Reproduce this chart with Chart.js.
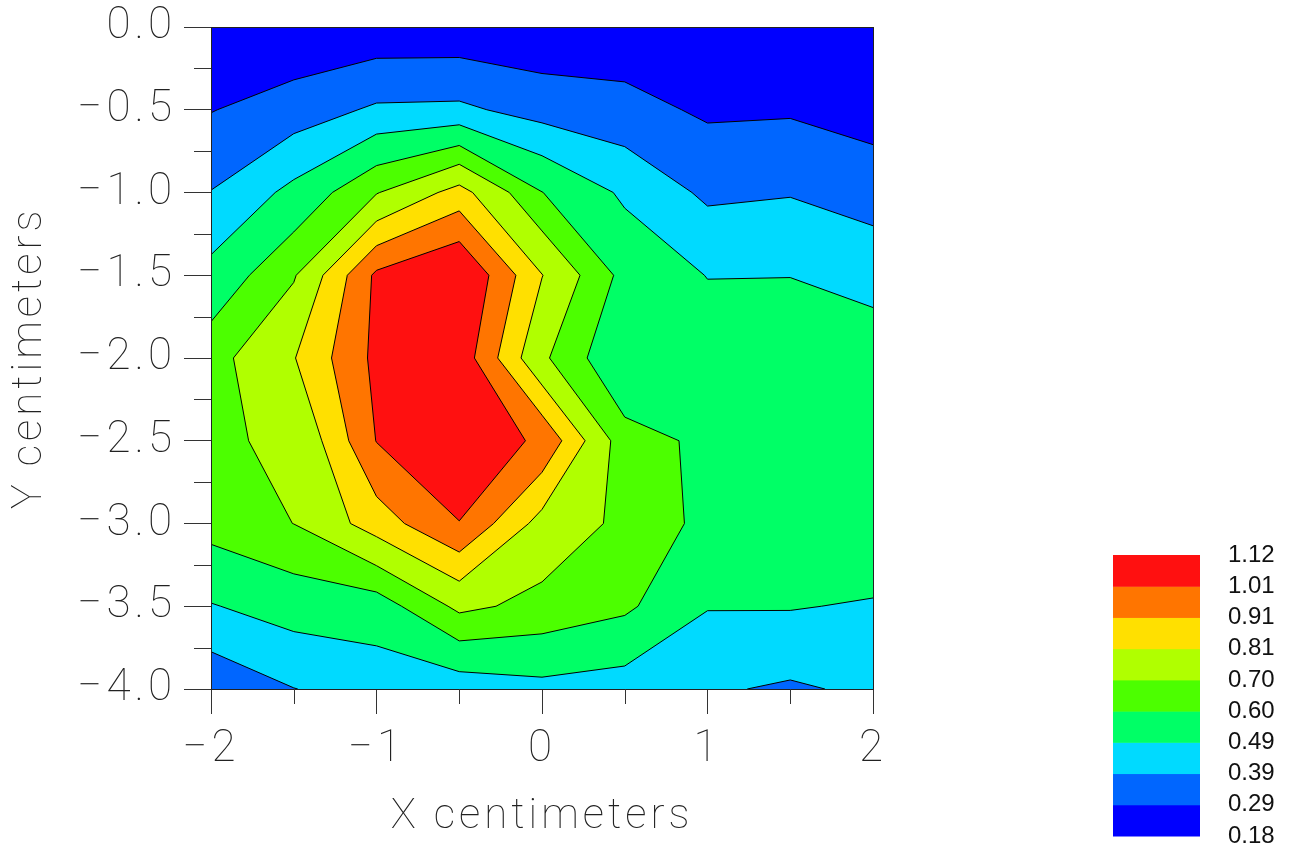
<!DOCTYPE html>
<html><head><meta charset="utf-8">
<script src="https://cdn.jsdelivr.net/npm/chart.js@4.4.1/dist/chart.umd.min.js"></script>
<style>html,body{margin:0;padding:0;background:#fff}canvas{display:block}</style>
</head><body>
<canvas id="c" width="1300" height="851"></canvas>
<script>
// grid coordinates (cm)
const xValues = [-2, -1.5, -1, -0.5, 0, 0.5, 1, 1.5, 2];
const yValues = [0, -0.5, -1, -1.5, -2, -2.5, -3, -3.5, -4];
// measured values, one row per y (top to bottom)
const zRow0 = [0.210, 0.205, 0.220, 0.220, 0.213, 0.223, 0.200, 0.190, 0.180];
const zRow1 = [0.286, 0.338, 0.405, 0.410, 0.350, 0.324, 0.2745, 0.279, 0.247];
const zRow2 = [0.393, 0.518, 0.694, 0.850, 0.602, 0.472, 0.371, 0.384, 0.349];
const zRow3 = [0.522, 0.690, 1.030, 1.120, 0.813, 0.567, 0.487, 0.488, 0.451];
const zRow4 = [0.661, 0.805, 1.035, 1.075, 0.720, 0.500, 0.550, 0.560, 0.551];
const zRow5 = [0.695, 0.706, 1.013, 1.070, 0.995, 0.640, 0.579, 0.570, 0.565];
const zRow6 = [0.639, 0.701, 0.860, 1.008, 0.772, 0.675, 0.571, 0.570, 0.580];
const zRow7 = [0.484, 0.535, 0.546, 0.724, 0.670, 0.620, 0.495, 0.496, 0.480];
const zRow8 = [0.313, 0.388, 0.429, 0.428, 0.460, 0.440, 0.402, 0.377, 0.408];
const zGrid = [zRow0, zRow1, zRow2, zRow3, zRow4, zRow5, zRow6, zRow7, zRow8];

const levels = [0.18, 0.29, 0.39, 0.49, 0.60, 0.70, 0.81, 0.91, 1.01, 1.12];
const levelLabels = ['0.18', '0.29', '0.39', '0.49', '0.60', '0.70', '0.81', '0.91', '1.01', '1.12'];
const bandColors = ['#0000FF', '#0066FF', '#00DAFF', '#00FF66', '#4CFF00', '#B0FF00', '#FFE000', '#FF7500', '#FF1010'];

const xTickValues = [-2, -1, 0, 1, 2];
const xTickLabels = ['\u22122', '\u22121', '0', '1', '2'];
const xMinorTicks = [-1.5, -0.5, 0.5, 1.5];
const yTickValues = [0, -0.5, -1, -1.5, -2, -2.5, -3, -3.5, -4];
const yTickLabels = ['0.0', '\u22120.5', '\u22121.0', '\u22121.5', '\u22122.0', '\u22122.5', '\u22123.0', '\u22123.5', '\u22124.0'];
const yMinorTicks = [-0.25, -0.75, -1.25, -1.75, -2.25, -2.75, -3.25, -3.75];

function cellContours(level) {
  const polys = [], segs = [];
  for (let r = 0; r < yValues.length - 1; r++) {
    for (let c = 0; c < xValues.length - 1; c++) {
      const corners = [
        [xValues[c], yValues[r], zGrid[r][c]],
        [xValues[c + 1], yValues[r], zGrid[r][c + 1]],
        [xValues[c + 1], yValues[r + 1], zGrid[r + 1][c + 1]],
        [xValues[c], yValues[r + 1], zGrid[r + 1][c]]
      ];
      const pts = [];
      for (let i = 0; i < 4; i++) {
        const a = corners[i], b = corners[(i + 1) % 4];
        const ia = a[2] >= level, ib = b[2] >= level;
        if (ia) pts.push({x: a[0], y: a[1], cross: false});
        if (ia !== ib) {
          const t = (level - a[2]) / (b[2] - a[2]);
          pts.push({x: a[0] + t * (b[0] - a[0]), y: a[1] + t * (b[1] - a[1]), cross: true});
        }
      }
      if (pts.length >= 3) polys.push(pts);
      for (let i = 0; i < pts.length; i++) {
        const p = pts[i], q = pts[(i + 1) % pts.length];
        if (p.cross && q.cross) segs.push([p, q]);
      }
    }
  }
  return {polys, segs};
}

const contourPlugin = {
  id: 'contour',
  beforeDraw(chart) { chart.ctx.letterSpacing = '4px'; },
  beforeDatasetsDraw(chart) {
    const {ctx, chartArea: a, scales: {x: sx, y: sy}} = chart;
    const X = v => sx.getPixelForValue(v), Y = v => sy.getPixelForValue(v);
    ctx.save();
    ctx.beginPath();
    ctx.rect(a.left, a.top, a.right - a.left, a.bottom - a.top);
    ctx.clip();
    for (let k = 0; k < bandColors.length; k++) {
      const {polys} = cellContours(levels[k]);
      ctx.beginPath();
      polys.forEach(p => {
        ctx.moveTo(X(p[0].x), Y(p[0].y));
        for (let i = 1; i < p.length; i++) ctx.lineTo(X(p[i].x), Y(p[i].y));
        ctx.closePath();
      });
      ctx.fillStyle = bandColors[k];
      ctx.fill();
    }
    ctx.beginPath();
    for (let k = 1; k < bandColors.length; k++) {
      const {segs} = cellContours(levels[k]);
      segs.forEach(([p, q]) => {
        ctx.moveTo(X(p.x), Y(p.y));
        ctx.lineTo(X(q.x), Y(q.y));
      });
    }
    ctx.strokeStyle = '#000';
    ctx.lineWidth = 1;
    ctx.stroke();
    ctx.restore();
  },
  afterDatasetsDraw(chart) {
    const {ctx, chartArea: a, scales: {x: sx, y: sy}} = chart;
    ctx.save();
    ctx.strokeStyle = '#222';
    ctx.lineWidth = 1;
    ctx.strokeRect(a.left + 0.5, a.top + 0.5, a.right - a.left, a.bottom - a.top);
    ctx.strokeStyle = '#333';
    ctx.beginPath();
    xMinorTicks.forEach(v => {
      const px = Math.round(sx.getPixelForValue(v)) + 0.5;
      ctx.moveTo(px, a.bottom); ctx.lineTo(px, a.bottom + 15);
    });
    yMinorTicks.forEach(v => {
      const py = Math.round(sy.getPixelForValue(v)) + 0.5;
      ctx.moveTo(a.left - 17, py); ctx.lineTo(a.left, py);
    });
    ctx.stroke();
    ctx.restore();
  },
  afterDraw(chart) {
    const ctx = chart.ctx;
    ctx.save();
    ctx.letterSpacing = '0px';
    const bx = 1113, bw = 87, top = 555, bottom = 836;
    const h = (bottom - top) / bandColors.length;
    for (let k = 0; k < bandColors.length; k++) {
      ctx.fillStyle = bandColors[k];
      ctx.fillRect(bx, bottom - (k + 1) * h, bw, h + 0.5);
    }
    ctx.fillStyle = '#111';
    ctx.font = '24px "Liberation Sans", Arial, sans-serif';
    ctx.textAlign = 'left';
    ctx.textBaseline = 'middle';
    levelLabels.forEach((t, k) => ctx.fillText(t, 1228, bottom - k * h));
    ctx.restore();
  }
};

const tickFont = {family: 'Roboto', size: 44, weight: 100};
const titleFont = {family: 'Roboto', size: 42, weight: 100};

function zeroPad(s) { s.paddingTop = 0; s.paddingBottom = 0; s.paddingLeft = 0; s.paddingRight = 0; }

new Chart(document.getElementById('c'), {
  type: 'scatter',
  data: {datasets: [{data: [], showLine: false}]},
  options: {
    responsive: false,
    animation: false,
    devicePixelRatio: 1,
    layout: {padding: {top: 27, right: 427, left: 0, bottom: 0}},
    plugins: {legend: {display: false}, tooltip: {enabled: false}},
    scales: {
      x: {
        type: 'linear', min: -2, max: 2, position: 'bottom',
        afterFit(s) { s.height = 162; zeroPad(s); },
        ticks: {
          stepSize: 1, autoSkip: false, maxRotation: 0, padding: 10,
          color: '#222', font: tickFont,
          callback: v => { const i = xTickValues.findIndex(t => Math.abs(t - v) < 1e-6); return i >= 0 ? xTickLabels[i] : ''; }
        },
        grid: {drawOnChartArea: false, drawTicks: true, tickLength: 25, color: '#333'},
        border: {display: true, color: '#333'},
        title: {display: true, text: 'X centimeters', color: '#222', font: titleFont, padding: {top: 0, bottom: 8}}
      },
      y: {
        type: 'linear', min: -4, max: 0, position: 'left',
        afterFit(s) { s.width = 211; zeroPad(s); },
        ticks: {
          stepSize: 0.5, autoSkip: false, padding: 8,
          color: '#222', font: tickFont,
          callback: v => { const i = yTickValues.findIndex(t => Math.abs(t - v) < 1e-6); return i >= 0 ? yTickLabels[i] : ''; }
        },
        grid: {drawOnChartArea: false, drawTicks: true, tickLength: 27, color: '#333'},
        border: {display: true, color: '#333'},
        title: {display: true, text: 'Y centimeters', color: '#222', font: titleFont, padding: {top: 5, bottom: 0}}
      }
    }
  },
  plugins: [contourPlugin]
});
</script>
</body></html>
